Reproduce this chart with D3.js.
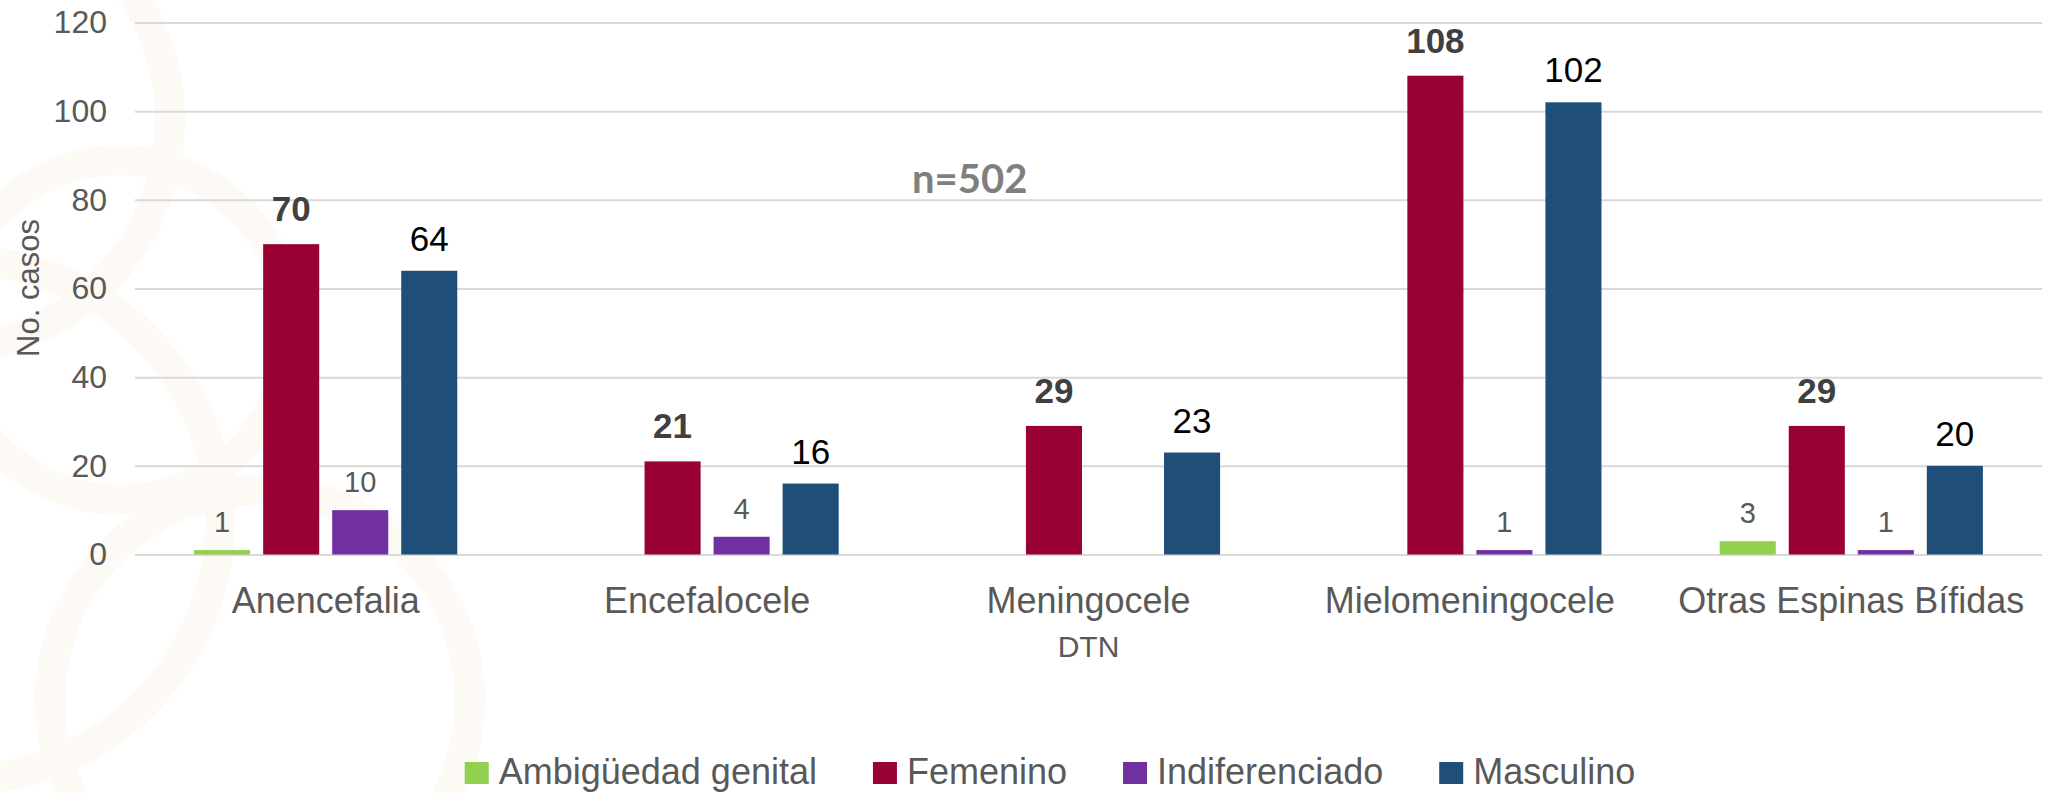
<!DOCTYPE html>
<html lang="es">
<head>
  <meta charset="UTF-8">
  <script src="https://cdn.jsdelivr.net/npm/d3@7/dist/d3.min.js"></script>
  <style>
    body { margin: 0; background: #fff; }
    svg { display: block; font-family: "Liberation Sans", Arial, sans-serif; }
  </style>
</head>
<body>
<svg></svg>
<script>
// data
var categories = ["Anencefalia", "Encefalocele", "Meningocele", "Mielomeningocele", "Otras Espinas Bífidas"];
var seriesNames = ["Ambigüedad genital", "Femenino", "Indiferenciado", "Masculino"];
var ambiguedad = [1, 0, 0, 0, 3];
var femenino = [70, 21, 29, 108, 29];
var indiferenciado = [10, 4, 0, 1, 1];
var masculino = [64, 16, 23, 102, 20];
var yTicks = [0, 20, 40, 60, 80, 100, 120];

var colors = ["#92d050", "#990033", "#7030a0", "#1f4e79"];
var seriesValues = [ambiguedad, femenino, indiferenciado, masculino];

var W = 2050, H = 793;
var margin = {top: 22, right: 8, bottom: 238, left: 135};

var svg = d3.select("svg").attr("width", W).attr("height", H);

// very faint watermark on the left side
var wm = svg.append("g").attr("fill", "none").attr("stroke", "#fdf9f4").attr("stroke-width", 30);
[[-60, 120, 230], [-40, 520, 260], [120, 330, 170], [260, 700, 210]].forEach(function(c){
  wm.append("circle").attr("cx", c[0]).attr("cy", c[1]).attr("r", c[2]);
});

var x0 = d3.scaleBand()
  .domain(categories)
  .range([margin.left, W - margin.right])
  .paddingInner(0.31)
  .paddingOuter(0.155);

var x1 = d3.scaleBand()
  .domain(seriesNames)
  .range([0, x0.bandwidth()])
  .paddingInner(0.188);

var y = d3.scaleLinear().domain([0, 120]).range([H - margin.bottom - 0.5, margin.top + 0.5]);

// gridlines + tick labels
var yAxis = d3.axisLeft(y).tickValues(yTicks).tickSize(-(W - margin.right - margin.left)).tickPadding(28);
var gy = svg.append("g").attr("transform", "translate(" + margin.left + ",0)").call(yAxis);
gy.select(".domain").remove();
gy.selectAll(".tick line").attr("stroke", "#d9d9d9").attr("stroke-width", 2);
gy.selectAll(".tick text").attr("fill", "#595959").attr("font-size", 32).attr("font-family", "Liberation Sans, Arial, sans-serif");

// y axis title
svg.append("text")
  .attr("transform", "translate(39,288) rotate(-90)")
  .attr("text-anchor", "middle")
  .attr("fill", "#595959")
  .attr("font-size", 31)
  .text("No. casos");

// bars
var rows = categories.map(function(c, i){
  return seriesNames.map(function(s, j){ return {cat: c, name: s, idx: j, value: seriesValues[j][i]}; });
});

var groups = svg.selectAll("g.grp").data(rows).enter().append("g")
  .attr("class", "grp")
  .attr("transform", function(d){ return "translate(" + x0(d[0].cat) + ",0)"; });

groups.selectAll("rect").data(function(d){ return d.filter(function(e){ return e.value > 0; }); })
  .enter().append("rect")
  .attr("x", function(d){ return x1(d.name); })
  .attr("y", function(d){ return y(d.value); })
  .attr("width", x1.bandwidth())
  .attr("height", function(d){ return y(0) - y(d.value); })
  .attr("fill", function(d){ return colors[d.idx]; });

// value labels
var labelStyle = [
  {size: 29, weight: "normal", fill: "#595959", gap: 18},
  {size: 35, weight: "bold", fill: "#404040", gap: 23},
  {size: 29, weight: "normal", fill: "#595959", gap: 18},
  {size: 35, weight: "normal", fill: "#000000", gap: 20}
];
groups.selectAll("text.val").data(function(d){ return d.filter(function(e){ return e.value > 0; }); })
  .enter().append("text")
  .attr("class", "val")
  .attr("x", function(d){ return x1(d.name) + x1.bandwidth() / 2; })
  .attr("y", function(d){ return y(d.value) - labelStyle[d.idx].gap; })
  .attr("text-anchor", "middle")
  .attr("font-size", function(d){ return labelStyle[d.idx].size; })
  .attr("font-weight", function(d){ return labelStyle[d.idx].weight; })
  .attr("fill", function(d){ return labelStyle[d.idx].fill; })
  .text(function(d){ return d.value; });

// category labels
var xAxis = d3.axisBottom(x0).tickSize(0).tickPadding(0);
var gx = svg.append("g").attr("transform", "translate(0,586)").call(xAxis);
gx.select(".domain").remove();
gx.selectAll(".tick text")
  .attr("dy", "0.76em")
  .attr("fill", "#595959")
  .attr("font-size", 36)
  .attr("font-family", "Liberation Sans, Arial, sans-serif");

// x axis title
svg.append("text")
  .attr("x", (margin.left + W - margin.right) / 2)
  .attr("y", 657)
  .attr("text-anchor", "middle")
  .attr("fill", "#595959")
  .attr("font-size", 30)
  .text("DTN");

// n annotation
svg.append("text")
  .attr("x", 912)
  .attr("y", 193)
  .attr("fill", "#7f7f7f")
  .attr("font-family", "Lato, 'Open Sans', sans-serif")
  .attr("font-weight", "bold")
  .attr("font-size", 40)
  .text("n=502");

// legend
var legend = svg.append("g");
var lx = 0;
seriesNames.forEach(function(name, i){
  var item = legend.append("g").attr("transform", "translate(" + lx + ",0)");
  item.append("rect").attr("x", 0).attr("y", 762).attr("width", 24).attr("height", 22).attr("fill", colors[i]);
  var t = item.append("text").attr("x", 34).attr("y", 784)
    .attr("fill", "#595959").attr("font-size", 36).text(name);
  lx += 34 + t.node().getComputedTextLength() + 56;
});
lx -= 56;
legend.attr("transform", "translate(" + (1050 - lx / 2) + ",0)");
</script>
</body>
</html>
